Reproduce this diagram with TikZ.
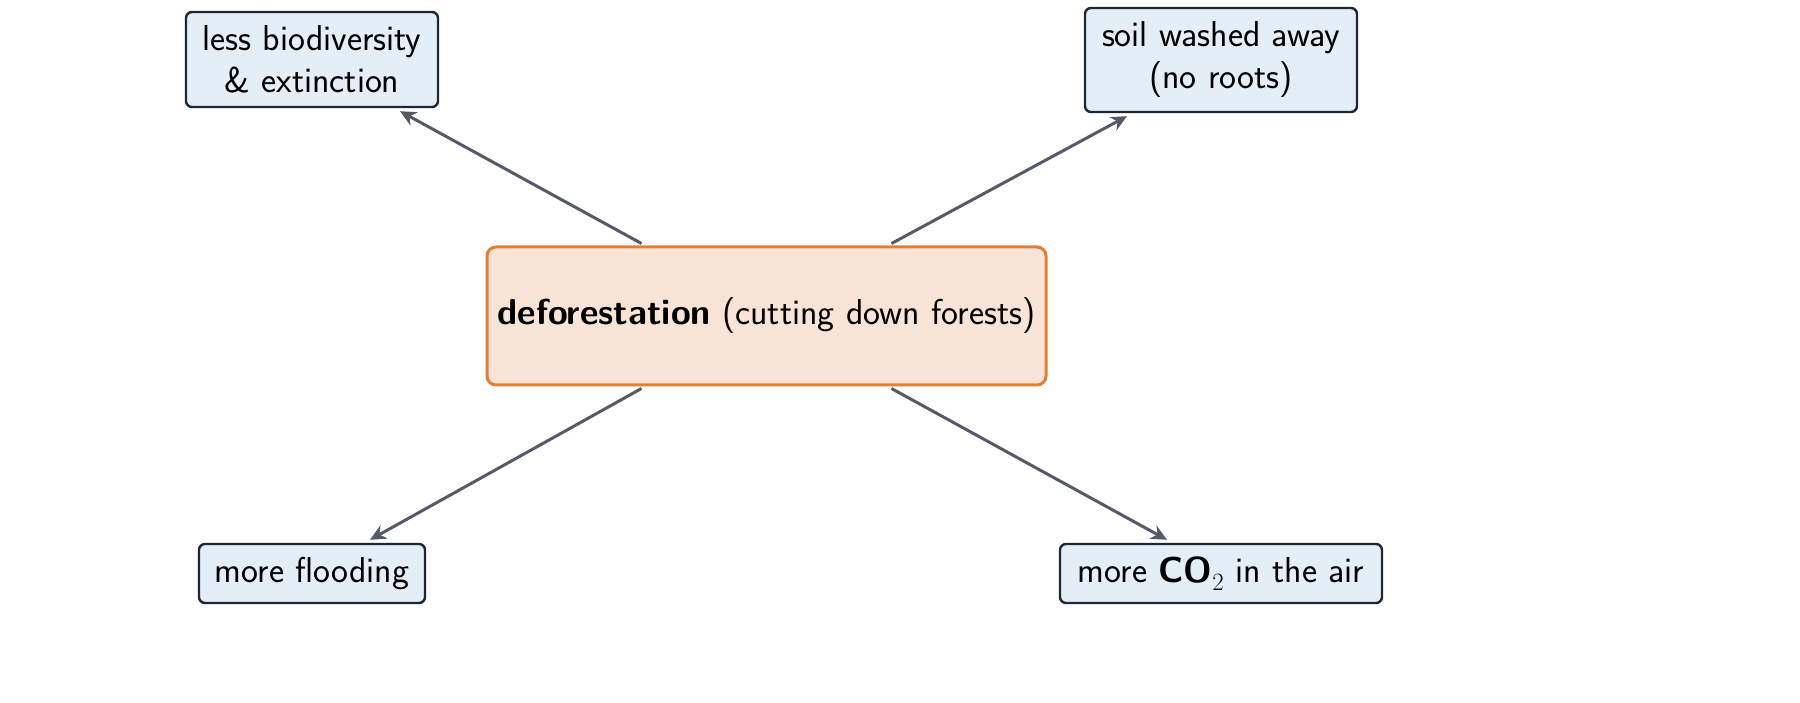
\documentclass[tikz,border=0pt]{standalone}
\usetikzlibrary{calc,arrows.meta}
\definecolor{bluefill}{HTML}{E4EEF6}
\definecolor{darkb}{HTML}{1F2733}
\definecolor{orb}{HTML}{E07F35}
\definecolor{orfill}{HTML}{F8E4D7}
\definecolor{arr}{HTML}{545B66}
\begin{document}
\begin{tikzpicture}[x=1pt,y=-1pt,
  effect/.style={draw=darkb,fill=bluefill,line width=2.4pt,rounded corners=6pt,align=center,inner sep=0pt,
     font=\sffamily\fontsize{36}{42}\selectfont},
  cause/.style={draw=orb,fill=orfill,line width=3pt,rounded corners=9pt,align=center,inner sep=0pt,
     font=\sffamily\fontsize{36}{42}\selectfont},
  link/.style={draw=arr,line width=3pt,-{Stealth[length=16pt,width=15pt,open,fill=arr]}}]
\useasboundingbox (0,0) rectangle (1800,703);
\node[cause,minimum width=559pt,minimum height=138pt] (c) at (766.5,316) {\textbf{deforestation} (cutting down forests)};
\node[effect,minimum width=252pt,minimum height=95pt] (tl) at (312,59.5) {less biodiversity\\\& extinction};
\node[effect,minimum width=272pt,minimum height=104pt] (tr) at (1221,60) {soil washed away\\(no roots)};
\node[effect,minimum width=226pt,minimum height=59pt] (bl) at (312,573.5) {more flooding};
\node[effect,minimum width=322pt,minimum height=59pt] (br) at (1221,573.5) {more \textbf{CO}$_2$ in the air};
\draw[link] ($(c.north)+(-125,-2)$) -- ($(tl.south)+(88,3)$);
\draw[link] ($(c.north)+(125,-2)$) -- ($(tr.south)+(-94,3)$);
\draw[link] ($(c.south)+(-125,2)$) -- ($(bl.north)+(58,-3)$);
\draw[link] ($(c.south)+(125,2)$) -- ($(br.north)+(-54,-3)$);
\end{tikzpicture}
\end{document}
